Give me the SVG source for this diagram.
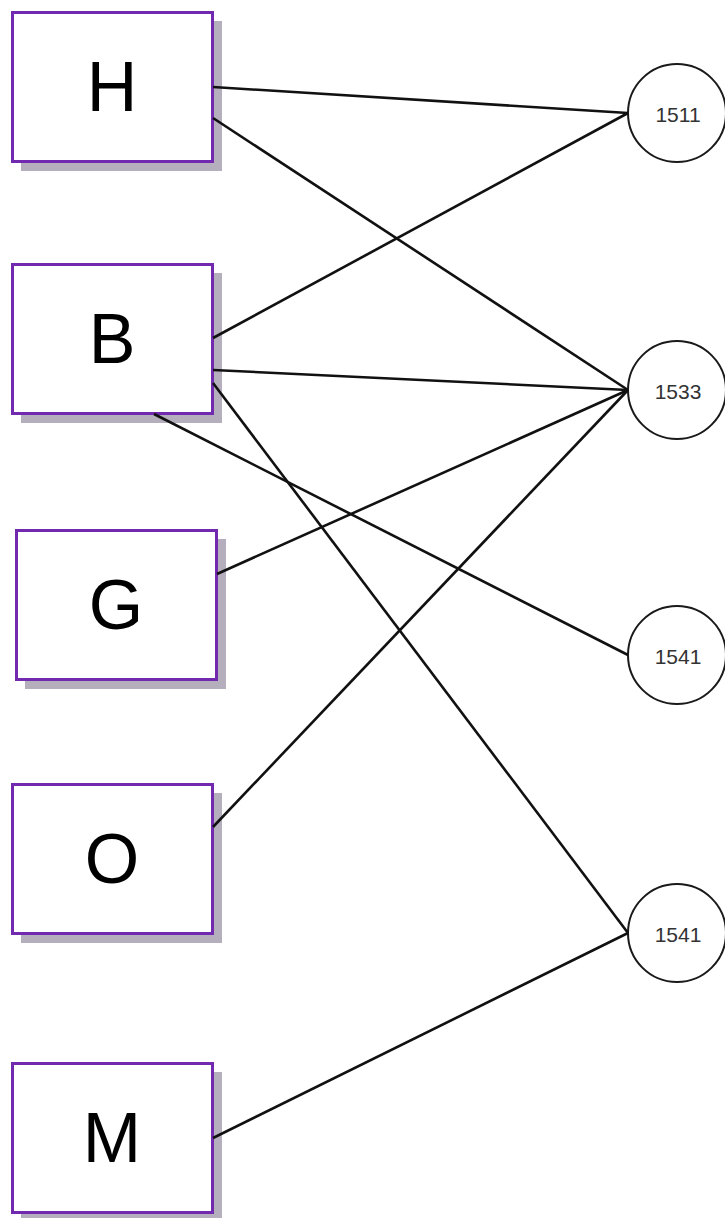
<svg xmlns="http://www.w3.org/2000/svg" width="725" height="1218" viewBox="0 0 725 1218">
<style>
.shadow{fill:#b5afbd;stroke:none}
.box{fill:#ffffff;stroke:#7129b0;stroke-width:3}
.lbl{font-family:"Liberation Sans",Arial,sans-serif;font-size:70px;fill:#000;text-anchor:middle;dominant-baseline:central}
.circ{fill:#ffffff;stroke:#1a1a1a;stroke-width:2}
.num{font-family:"Liberation Sans",Arial,sans-serif;font-size:21px;fill:#333;text-anchor:middle;dominant-baseline:central}
.edge{stroke:#111;stroke-width:2.6;fill:none}
</style>
<rect width="725" height="1218" fill="#ffffff"/>
<g id="node-H">
<rect class="shadow" x="21" y="21" width="201" height="150"/>
<rect class="box" x="12.5" y="12.5" width="200" height="149"/>
<text class="lbl" x="112" y="87">H</text>
</g>
<g id="node-B">
<rect class="shadow" x="21" y="273" width="201" height="150"/>
<rect class="box" x="12.5" y="264.5" width="200" height="149"/>
<text class="lbl" x="112" y="339">B</text>
</g>
<g id="node-G">
<rect class="shadow" x="25" y="539" width="201" height="150"/>
<rect class="box" x="16.5" y="530.5" width="200" height="149"/>
<text class="lbl" x="116" y="605">G</text>
</g>
<g id="node-O">
<rect class="shadow" x="21" y="793" width="201" height="150"/>
<rect class="box" x="12.5" y="784.5" width="200" height="149"/>
<text class="lbl" x="112" y="859">O</text>
</g>
<g id="node-M">
<rect class="shadow" x="21" y="1072" width="201" height="150"/>
<rect class="box" x="12.5" y="1063.5" width="200" height="149"/>
<text class="lbl" x="112" y="1138">M</text>
</g>
<g id="node-1511">
<circle class="circ" cx="677" cy="113" r="49"/>
<text class="num" x="678" y="114">1511</text>
</g>
<g id="node-1533">
<circle class="circ" cx="677" cy="390" r="49"/>
<text class="num" x="678" y="391">1533</text>
</g>
<g id="node-1541a">
<circle class="circ" cx="677" cy="655" r="49"/>
<text class="num" x="678" y="656">1541</text>
</g>
<g id="node-1541b">
<circle class="circ" cx="677" cy="933" r="49"/>
<text class="num" x="678" y="934">1541</text>
</g>
<g id="connectors">
<line class="edge" x1="213" y1="87" x2="628" y2="113"/>
<line class="edge" x1="213" y1="118" x2="628" y2="390"/>
<line class="edge" x1="213" y1="338" x2="628" y2="113"/>
<line class="edge" x1="213" y1="370" x2="628" y2="390"/>
<line class="edge" x1="213" y1="383" x2="628" y2="933"/>
<line class="edge" x1="154" y1="414" x2="628" y2="655"/>
<line class="edge" x1="217" y1="574" x2="628" y2="390"/>
<line class="edge" x1="213" y1="827" x2="628" y2="390"/>
<line class="edge" x1="213" y1="1138" x2="628" y2="933"/>
</g>
</svg>
